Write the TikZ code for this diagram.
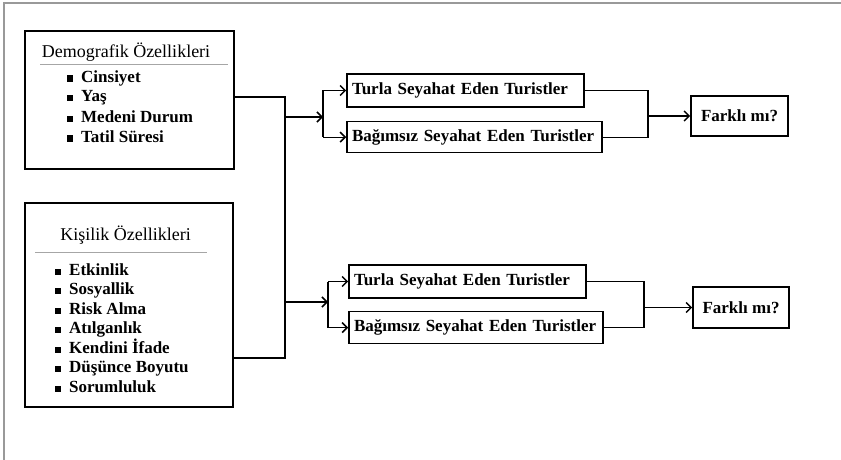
\documentclass[tikz,border=0pt]{standalone}
\usepackage{fontspec}
\setmainfont{Liberation Serif}
\usetikzlibrary{arrows.meta,positioning}
\tikzstyle{group}=[
	rectangle,
	draw,
	line width=1.6pt
]
\tikzstyle{tourist}=[
	rectangle,
	draw,
	line width=1.6pt,
	inner xsep=5pt,
	align=left,
	font=\fontsize{17}{20}\selectfont\bfseries
]
\tikzstyle{result}=[
	rectangle,
	draw,
	line width=1.6pt,
	font=\fontsize{17}{20}\selectfont\bfseries
]
\tikzstyle{heading}=[
	anchor=base,
	inner sep=0pt,
	font=\fontsize{18}{20}\selectfont
]
\tikzstyle{item}=[
	anchor=base west,
	inner sep=0pt,
	font=\fontsize{17}{20}\selectfont\bfseries
]
\tikzstyle{link}=[
	line width=1.2pt
]
\tikzstyle{flow}=[
	line width=1.2pt,
	-{Straight Barb[length=5pt,width=10pt,line width=1.5pt]}
]
\newcommand{\blt}{\rule[0.5pt]{6pt}{6pt}\hspace{8pt}}

\begin{document}
\begin{tikzpicture}[x=1pt,y=-1pt]
\useasboundingbox (0,0) rectangle (841,460);
% frame
\draw[gray!80, line width=1.4pt] (4,460) -- (4,3) -- (841,3);

% left groups
\node [group, minimum width=209pt, minimum height=138pt] (demo) at (129.5,100) {};
\node [heading] (demotitle) at (126,58) {Demografik Özellikleri};
\draw [gray!70, line width=0.8pt] (40,64) -- (228,64);
\node [item] (cinsiyet) at (67,82) {\blt Cinsiyet};
\node [item] (yas) at (67,102) {\blt Yaş};
\node [item] (medeni) at (67,122) {\blt Medeni Durum};
\node [item] (tatil) at (67,142) {\blt Tatil Süresi};

\node [group, minimum width=208pt, minimum height=204pt] (kisilik) at (129,305) {};
\node [heading] (kisiliktitle) at (125.5,240) {Kişilik Özellikleri};
\draw [gray!70, line width=0.8pt] (35,252) -- (207,252);
\node [item] (etkinlik) at (55,275) {\blt Etkinlik};
\node [item] (sosyallik) at (55,294.5) {\blt Sosyallik};
\node [item] (risk) at (55,314) {\blt Risk Alma};
\node [item] (atilganlik) at (55,333.5) {\blt Atılganlık};
\node [item] (kendini) at (55,353) {\blt Kendini İfade};
\node [item] (dusunce) at (55,372.5) {\blt Düşünce Boyutu};
\node [item] (sorumluluk) at (55,392) {\blt Sorumluluk};

% tourist boxes
\node [tourist, text width=227pt, minimum height=33pt] (tur1) at (465.5,90.5) {Turla Seyahat Eden Turistler};
\node [tourist, text width=245pt, minimum height=31pt, below right=13pt and 0pt of tur1.south west] (bag1) {Bağımsız Seyahat Eden Turistler};
\node [tourist, text width=227pt, minimum height=33pt] (tur2) at (467.5,281.5) {Turla Seyahat Eden Turistler};
\node [tourist, text width=244pt, minimum height=32pt, below right=12pt and 0pt of tur2.south west] (bag2) {Bağımsız Seyahat Eden Turistler};

% results
\node [result, minimum width=97pt, minimum height=40pt] (fark1) at (739.5,116) {Farklı mı?};
\node [result, minimum width=96pt, minimum height=41pt] (fark2) at (741,307.5) {Farklı mı?};

% connectors
\coordinate (bustop) at (285,97);
\coordinate (busbot) at (285,358);
\coordinate (split1) at (323,117);
\coordinate (split2) at (328,302);
\coordinate (merge1) at (648,114);
\coordinate (merge2) at (644,304);
\draw [link] (demo.east |- bustop) -- (bustop) -- (busbot) -- (kisilik.east |- busbot);
\draw [flow] (bustop |- split1) -- (split1);
\draw [flow] (bustop |- split2) -- (split2);
\draw [link] (tur1.west -| split1) -- (bag1.west -| split1);
\draw [flow] (tur1.west -| split1) -- (tur1.west);
\draw [flow] (bag1.west -| split1) -- (bag1.west);
\draw [link] (tur2.west -| split2) -- (bag2.west -| split2);
\draw [flow] (tur2.west -| split2) -- (tur2.west);
\draw [flow] (bag2.west -| split2) -- (bag2.west);
\draw [link] (tur1.east) -- (tur1.east -| merge1) -- (bag1.east -| merge1) -- (bag1.east);
\draw [flow] (merge1 |- fark1.west) -- (fark1.west);
\draw [link] (tur2.east) -- (tur2.east -| merge2) -- (bag2.east -| merge2) -- (bag2.east);
\draw [flow] (merge2 |- fark2.west) -- (fark2.west);
\end{tikzpicture}
\end{document}
